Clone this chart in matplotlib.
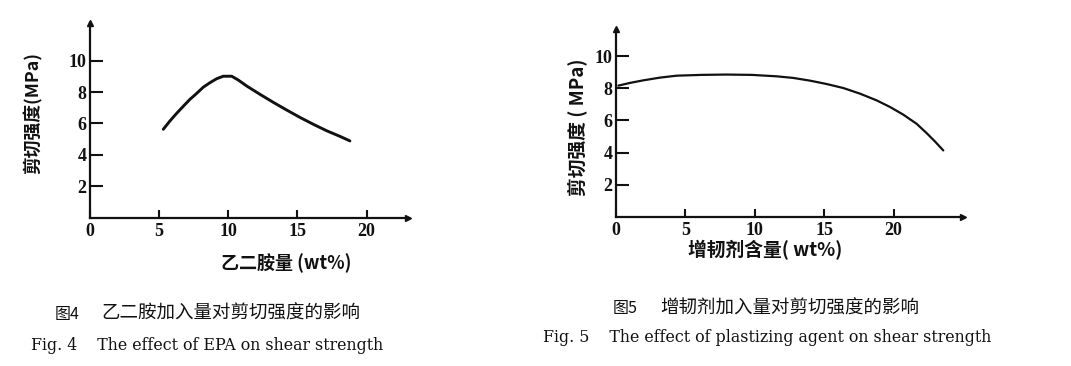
"""Shear strength vs. additive content: Fig. 4 (EPA) and Fig. 5 (toughening agent)."""

import matplotlib

matplotlib.use("Agg")
import matplotlib.pyplot as plt

# Fig. 4: ethylenediamine (EPA) content vs. shear strength
epa_wt = [5.30, 5.78, 6.27, 6.75, 7.23, 7.72, 8.19, 8.68, 9.16, 9.64, 10.25,
          10.72, 11.33, 12.29, 13.25, 14.22, 15.18, 16.15, 17.11, 18.08, 18.80]
epa_strength = [5.63, 6.16, 6.65, 7.10, 7.54, 7.92, 8.31, 8.60, 8.85, 9.01,
                9.01, 8.77, 8.39, 7.86, 7.35, 6.86, 6.39, 5.95, 5.54, 5.18, 4.89]

# Fig. 5: toughening agent content vs. shear strength
agent_wt = [0.17, 1.01, 1.97, 3.17, 4.37, 6.17, 7.97, 9.78, 11.58, 12.77,
            13.98, 15.18, 16.38, 17.58, 18.78, 19.74, 20.70, 21.66, 22.38,
            22.98, 23.58]
agent_strength = [8.17, 8.34, 8.50, 8.67, 8.79, 8.84, 8.86, 8.84, 8.75, 8.65,
                  8.48, 8.27, 8.02, 7.67, 7.25, 6.84, 6.36, 5.79, 5.21, 4.69,
                  4.13]

x_ticks = [0, 5, 10, 15, 20]
y_ticks = [2, 4, 6, 8, 10]

left_ylabel = "剪切强度(MPa)"
left_xlabel = "乙二胺量 (wt%)"
right_ylabel = "剪切强度 ( MPa)"
right_xlabel = "增韧剂含量( wt%)"

left_caption_cn = ("图4", "乙二胺加入量对剪切强度的影响")
left_caption_en = "Fig. 4    The effect of EPA on shear strength"
right_caption_cn = ("图5", "增韧剂加入量对剪切强度的影响")
right_caption_en = "Fig. 5    The effect of plastizing agent on shear strength"

CJK = ["Noto Sans CJK SC", "DejaVu Sans"]
SERIF = ["Liberation Serif", "DejaVu Serif"]
CAPTION_SERIF = ["DejaVu Serif"]
INK = "#111111"

plt.rcParams["font.family"] = CJK

fig = plt.figure(figsize=(10.71, 3.66), dpi=100)
W, H = 1071.0, 366.0


def px_axes(x0, y_top, x1, y_bottom):
    return [x0 / W, 1 - y_bottom / H, (x1 - x0) / W, (y_bottom - y_top) / H]


def style_axis(ax, xmax, ymax):
    ax.set_xlim(0, xmax)
    ax.set_ylim(0, ymax)
    for side in ("top", "right"):
        ax.spines[side].set_visible(False)
    for side in ("left", "bottom"):
        ax.spines[side].set_linewidth(1.6)
        ax.spines[side].set_color(INK)
    ax.set_xticks(x_ticks)
    ax.set_yticks(y_ticks)
    ax.tick_params(axis="x", direction="in", length=6, width=1.5, pad=4,
                   color=INK, labelcolor=INK)
    ax.tick_params(axis="y", direction="in", length=9, width=1.5, pad=2.5,
                   color=INK, labelcolor=INK)
    for lab in ax.get_xticklabels() + ax.get_yticklabels():
        lab.set_fontfamily(SERIF)
        lab.set_fontweight("bold")
        lab.set_fontsize(13)
    # arrow heads at the axis ends
    ax.plot(1, 0, ">", color=INK, markersize=5, transform=ax.transAxes,
            clip_on=False)
    ax.plot(0, 1, "^", color=INK, markersize=4, transform=ax.transAxes,
            clip_on=False)
    ax.set_facecolor("none")


ax_l = fig.add_axes(px_axes(90, 23, 408, 217.7))
ax_l.plot(epa_wt, epa_strength, color=INK, linewidth=2.1,
          solid_capstyle="round", solid_joinstyle="round")
style_axis(ax_l, 23.0, 12.4)

ax_r = fig.add_axes(px_axes(616, 29, 963, 216.7))
ax_r.plot(agent_wt, agent_strength, color=INK, linewidth=1.6,
          solid_capstyle="round", solid_joinstyle="round")
style_axis(ax_r, 25.0, 11.7)

# axis titles
fig.text(33 / W, 1 - 113 / H, left_ylabel, rotation=90, ha="center",
         va="center", fontsize=12.8, fontweight="bold", color=INK)
fig.text(286 / W, 1 - 263 / H, left_xlabel, ha="center", va="center",
         fontsize=13, fontweight="bold", color=INK)
fig.text(577 / W, 1 - 127 / H, right_ylabel, rotation=90, ha="center",
         va="center", fontsize=13.5, fontweight="bold", color=INK)
fig.text(765 / W, 1 - 250 / H, right_xlabel, ha="center", va="center",
         fontsize=13.5, fontweight="bold", color=INK)

# figure captions
fig.text(55 / W, 1 - 314 / H, left_caption_cn[0], ha="left", va="center",
         fontsize=11.5, color=INK)
fig.text(101 / W, 1 - 314 / H, left_caption_cn[1], ha="left", va="center",
         fontsize=13.3, color=INK)
fig.text(31 / W, 1 - 345 / H, left_caption_en, ha="left", va="center",
         fontsize=11.4, family=CAPTION_SERIF, color=INK)

fig.text(613 / W, 1 - 309 / H, right_caption_cn[0], ha="left", va="center",
         fontsize=11.5, color=INK)
fig.text(660 / W, 1 - 309 / H, right_caption_cn[1], ha="left", va="center",
         fontsize=13.3, color=INK)
fig.text(543 / W, 1 - 338 / H, right_caption_en, ha="left", va="center",
         fontsize=11.4, family=CAPTION_SERIF, color=INK)

fig.savefig("out.png", dpi=100, facecolor="white")
